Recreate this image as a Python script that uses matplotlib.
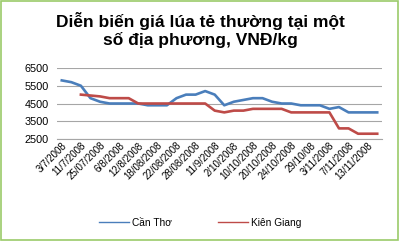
import matplotlib
matplotlib.use("Agg")
import matplotlib.pyplot as plt
from matplotlib.lines import Line2D
from matplotlib.patches import Rectangle

# data (34 dates, every other one labelled)
tick_labels = ["3/7/2008", "11/7/2008", "25/07/2008", "6/8/2008", "12/8/2008",
               "18/08/2008", "22/08/2008", "28/08/2008", "11/9/2008", "2/10/2008",
               "10/10/2008", "20/10/2008", "24/10/2008", "29/10/08", "3/11/2008",
               "7/11/2008", "13/11/2008"]
can_tho = [5800, 5700, 5500, 4800, 4600, 4500, 4500, 4500, 4500, 4400,
           4400, 4400, 4800, 5000, 5000, 5200, 5000, 4400, 4600, 4700,
           4800, 4800, 4600, 4500, 4500, 4400, 4400, 4400, 4200, 4300,
           4000, 4000, 4000, 4000]
kien_giang = [None, None, 5000, 4950, 4900, 4800, 4800, 4800, 4500, 4500,
              4500, 4500, 4500, 4500, 4500, 4500, 4100, 4000, 4100, 4100,
              4200, 4200, 4200, 4200, 4000, 4000, 4000, 4000, 4000, 3100,
              3100, 2800, 2800, 2800]
y_ticks = [2500, 3500, 4500, 5500, 6500]

blue = "#4A7EBB"
red = "#BE4B48"

plt.rcParams['font.family'] = ['Liberation Sans', 'DejaVu Sans']

fig = plt.figure(figsize=(4.0, 2.41), dpi=100)
ax = fig.add_axes([0.1425, 0.423, 0.8125, 0.295])

x = list(range(len(can_tho)))
kg_x = [i for i, v in enumerate(kien_giang) if v is not None]
kg_y = [v for v in kien_giang if v is not None]

ax.plot(x, can_tho, color=blue, lw=1.9, solid_joinstyle="round")
ax.plot(kg_x, kg_y, color=red, lw=1.9, solid_joinstyle="round")

ax.set_xlim(-0.5, len(can_tho) - 0.5)
ax.set_ylim(2500, 6500)
ax.set_yticks(y_ticks)
ax.set_yticklabels([str(v) for v in y_ticks], fontsize=7.8)
ax.yaxis.grid(True, color="#A6A6A6", lw=0.8)
ax.set_axisbelow(True)
for s in ["top", "right", "left"]:
    ax.spines[s].set_visible(False)
ax.spines["bottom"].set_color("#A6A6A6")
ax.tick_params(axis="y", length=0, pad=6)
ax.tick_params(axis="x", length=0, pad=1)

ax.set_xticks(range(0, len(can_tho), 2)[:len(tick_labels)])
ax.set_xticklabels(tick_labels, rotation=45, ha="right", rotation_mode="anchor",
                   fontsize=7)

fig.text(0.5, 0.875, "Diễn biến giá lúa tẻ thường tại một\nsố địa phương, VNĐ/kg",
         ha="center", va="center", fontsize=12.5, fontweight="bold",
         linespacing=1.2)

handles = [Line2D([], [], color=blue, lw=1), Line2D([], [], color=red, lw=1)]
fig.legend(handles, ["Cần Thơ", "Kiên Giang"], loc="center",
           bbox_to_anchor=(0.5, 0.075), ncol=2, frameon=False, fontsize=7.3,
           handlelength=3, handletextpad=0.3, columnspacing=4.5)

fig.patches.append(Rectangle((0.003, 0.005), 0.992, 0.99, transform=fig.transFigure,
                             fill=False, edgecolor="#9BCB6A", lw=1.2))

fig.savefig("out.png", dpi=100)
